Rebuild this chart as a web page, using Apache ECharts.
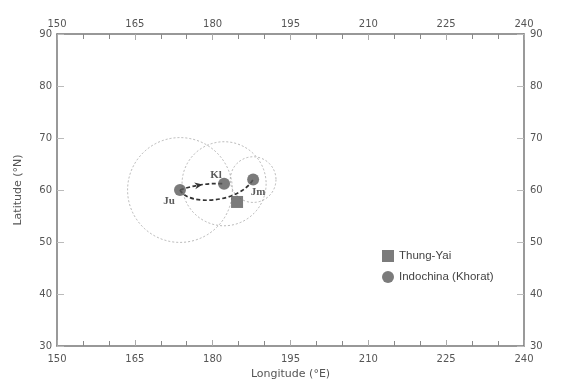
<!DOCTYPE html>
<html>
<head>
<meta charset="utf-8">
<script src="https://cdn.jsdelivr.net/npm/echarts@6/dist/echarts.min.js"></script>
<style>html,body{margin:0;padding:0;background:#fff;}#c{width:562px;height:382px;}</style>
</head>
<body>
<div id="c"></div>
<script>
// ---- data ----
const poleNames = ['Ju', 'Kl', 'Jm'];
const poleLon = [173.7, 182.2, 187.8];
const poleLat = [60.0, 61.2, 62.0];
const poleA95 = [10.1, 8.1, 4.4];
const thungYaiLon = [184.7];
const thungYaiLat = [57.7];
const pathFrom = ['Ju', 'Ju'];
const pathTo = ['Kl', 'Jm'];
const lonTicks = [150, 165, 180, 195, 210, 225, 240];
const latTicks = [30, 40, 50, 60, 70, 80, 90];
const seriesNames = ['Thung-Yai', 'Indochina (Khorat)'];

// ---- styling / helpers ----
const tickFont = 'DejaVu Sans';
const labelColor = '#555';
const axisColor = '#777';
const markColor = '#5a5a5a';
const pathStyles = [
  { type: 'quad', bend: -0.1, arrowT: 0.42 },
  { type: 'cubic', c1: [0.078, 0.23], c2: [-0.246, 0.295] }
];
const labelOffsets = { Ju: [-11, 11], Kl: [-8, -9], Jm: [5, 13] };

const idx = n => poleNames.indexOf(n);
const pathData = pathFrom.map((f, i) => {
  const a = idx(f), b = idx(pathTo[i]);
  return [poleLon[a], poleLat[a], poleLon[b], poleLat[b]];
});
const circleData = poleNames.map((n, i) => [poleLon[i], poleLat[i], poleA95[i]]);
const khoratData = poleNames.map((n, i) => ({
  name: n,
  value: [poleLon[i], poleLat[i]],
  label: { offset: labelOffsets[n] }
}));
const thungYaiData = thungYaiLon.map((v, i) => [v, thungYaiLat[i]]);

function xAxisBase(pos) {
  return {
    type: 'value', position: pos, min: lonTicks[0], max: lonTicks[lonTicks.length - 1],
    interval: 15,
    axisLine: { show: true, lineStyle: { color: axisColor, width: 1.5 } },
    axisTick: { show: true, inside: true, length: 6, lineStyle: { color: '#aaa', width: 1 } },
    minorTick: { show: true, splitNumber: 3, length: 5, lineStyle: { color: '#888', width: 1 } },
    splitLine: { show: false },
    axisLabel: { color: labelColor, fontFamily: tickFont, fontSize: 10, margin: pos === 'top' ? 5 : 8, showMinLabel: true, showMaxLabel: true }
  };
}
function yAxisBase(pos) {
  return {
    type: 'value', position: pos, min: latTicks[0], max: latTicks[latTicks.length - 1],
    interval: 10,
    axisLine: { show: true, lineStyle: { color: axisColor, width: 1.5 } },
    axisTick: { show: true, inside: true, length: 7, lineStyle: { color: '#bbb', width: 1 } },
    splitLine: { show: false },
    axisLabel: { color: labelColor, fontFamily: tickFont, fontSize: 10, margin: pos === 'left' ? 5 : 6, showMinLabel: true, showMaxLabel: true }
  };
}

const xb = xAxisBase('bottom');
xb.name = 'Longitude (°E)';
xb.nameLocation = 'middle';
xb.nameGap = 21;
xb.nameTextStyle = { color: '#555', fontFamily: tickFont, fontSize: 11 };
const xt = xAxisBase('top');
const yl = yAxisBase('left');
yl.name = 'Latitude (°N)';
yl.nameLocation = 'middle';
yl.nameGap = 33;
yl.nameTextStyle = { color: '#555', fontFamily: tickFont, fontSize: 11 };
const yr = yAxisBase('right');

const chart = echarts.init(document.getElementById('c'), null, { renderer: 'canvas' });
chart.setOption({
  animation: false,
  backgroundColor: '#fff',
  grid: { left: 57, right: 38, top: 34, bottom: 36, containLabel: false, outerBoundsMode: 'none' },
  xAxis: [xb, xt],
  yAxis: [yl, yr],
  legend: {
    data: seriesNames,
    orient: 'vertical', left: 377, top: 245,
    itemWidth: 12, itemHeight: 12, itemGap: 9,
    textStyle: { color: '#444', fontFamily: 'Liberation Sans', fontSize: 11.5 }
  },
  series: [
    {
      type: 'custom', name: 'a95', xAxisIndex: 0, yAxisIndex: 0, z: 1,
      encode: { x: 0, y: 1 },
      data: circleData,
      renderItem: function (params, api) {
        const c = api.coord([api.value(0), api.value(1)]);
        const r = api.size([api.value(2), 0])[0];
        return {
          type: 'circle', shape: { cx: c[0], cy: c[1], r: r },
          style: { fill: 'transparent', stroke: '#a5a5a5', lineWidth: 0.8, lineDash: [2, 2] }
        };
      }
    },
    {
      type: 'custom', name: 'paths', xAxisIndex: 0, yAxisIndex: 0, z: 2,
      encode: { x: [0, 2], y: [1, 3] },
      data: pathData,
      renderItem: function (params, api) {
        const p0 = api.coord([api.value(0), api.value(1)]);
        const p1 = api.coord([api.value(2), api.value(3)]);
        const dx = p1[0] - p0[0], dy = p1[1] - p0[1];
        const L = Math.hypot(dx, dy);
        const u = [dx / L, dy / L], n = [-u[1], u[0]];
        const st = pathStyles[params.dataIndex];
        const lineStyle = { fill: null, stroke: '#333', lineWidth: 1.7, lineDash: [4, 2.5] };
        const children = [];
        if (st.type === 'quad') {
          const cp = [(p0[0] + p1[0]) / 2 + n[0] * st.bend * L, (p0[1] + p1[1]) / 2 + n[1] * st.bend * L];
          children.push({
            type: 'bezierCurve',
            shape: { x1: p0[0], y1: p0[1], x2: p1[0], y2: p1[1], cpx1: cp[0], cpy1: cp[1] },
            style: lineStyle
          });
          const t = st.arrowT;
          const P = [
            (1 - t) * (1 - t) * p0[0] + 2 * (1 - t) * t * cp[0] + t * t * p1[0],
            (1 - t) * (1 - t) * p0[1] + 2 * (1 - t) * t * cp[1] + t * t * p1[1]
          ];
          let tg = [2 * (1 - t) * (cp[0] - p0[0]) + 2 * t * (p1[0] - cp[0]),
                    2 * (1 - t) * (cp[1] - p0[1]) + 2 * t * (p1[1] - cp[1])];
          const tl = Math.hypot(tg[0], tg[1]);
          tg = [tg[0] / tl, tg[1] / tl];
          const nn = [-tg[1], tg[0]];
          const tip = [P[0] + tg[0] * 4.5, P[1] + tg[1] * 4.5];
          const bl = [P[0] - tg[0] * 3.5 + nn[0] * 3.5, P[1] - tg[1] * 3.5 + nn[1] * 3.5];
          const br = [P[0] - tg[0] * 3.5 - nn[0] * 3.5, P[1] - tg[1] * 3.5 - nn[1] * 3.5];
          const notch = [P[0] - tg[0] * 1, P[1] - tg[1] * 1];
          children.push({
            type: 'polygon', shape: { points: [tip, bl, notch, br] },
            style: { fill: '#333', stroke: null }
          });
        } else {
          const c1 = [p0[0] + (u[0] * st.c1[0] + n[0] * st.c1[1]) * L, p0[1] + (u[1] * st.c1[0] + n[1] * st.c1[1]) * L];
          const c2 = [p1[0] + (u[0] * st.c2[0] + n[0] * st.c2[1]) * L, p1[1] + (u[1] * st.c2[0] + n[1] * st.c2[1]) * L];
          children.push({
            type: 'bezierCurve',
            shape: { x1: p0[0], y1: p0[1], x2: p1[0], y2: p1[1], cpx1: c1[0], cpy1: c1[1], cpx2: c2[0], cpy2: c2[1] },
            style: lineStyle
          });
        }
        return { type: 'group', children: children };
      }
    },
    {
      type: 'scatter', name: seriesNames[0], xAxisIndex: 0, yAxisIndex: 0, z: 3,
      symbol: 'rect', symbolSize: 12,
      itemStyle: { color: markColor },
      data: thungYaiData
    },
    {
      type: 'scatter', name: seriesNames[1], xAxisIndex: 0, yAxisIndex: 0, z: 3,
      symbol: 'circle', symbolSize: 12,
      itemStyle: { color: markColor },
      label: {
        show: true, position: 'inside', formatter: '{b}',
        color: '#333', fontFamily: 'Liberation Serif', fontWeight: 'bold', fontSize: 11
      },
      data: khoratData
    }
  ]
});
</script>
</body>
</html>
